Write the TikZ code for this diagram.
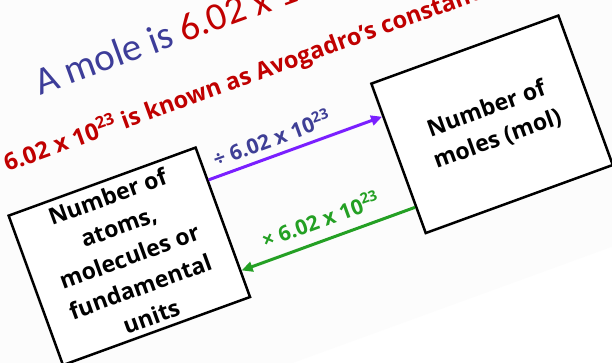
\documentclass[tikz,border=0pt]{standalone}
\usepackage{fontspec}
\setmainfont{Carlito}
\newfontfamily\boldsans{Open Sans}
\usetikzlibrary{arrows.meta,calc}
\definecolor{titleblue}{HTML}{3D3D99}
\definecolor{avored}{HTML}{C00000}
\definecolor{labblue}{HTML}{3F3F96}
\definecolor{arrpurple}{HTML}{7A1FFF}
\definecolor{arrgreen}{HTML}{24A024}
\definecolor{slide}{HTML}{FCFCFC}
\tikzset{
  box/.style={draw=black, line width=2.5pt, fill=white, minimum width=199pt, minimum height=159pt,
    align=center, font=\boldsans\fontsize{23}{32}\selectfont\bfseries, transform shape, inner sep=0pt},
  conv/.style={line width=3pt, -{Triangle[length=11pt,width=10pt]}},
  lab/.style={anchor=base west, font=\boldsans\fontsize{21}{26}\selectfont\bfseries, transform shape, inner sep=0pt},
}
\begin{document}
\begin{tikzpicture}[x=1pt,y=1pt]
\useasboundingbox (0,0) rectangle (612,363);
\clip (0,0) rectangle (612,363);
\fill[white] (0,0) rectangle (612,363);
\begin{scope}[rotate=20]
  \fill[slide] (-400,-100) rectangle (1200,700);
  \node[anchor=base west, font=\fontsize{39}{44}\selectfont, text=titleblue, transform shape, inner sep=0pt]
    (title) at (129,238) {A mole is \textcolor{avored}{6.02 x 10\textsuperscript{23} particles}};
  \node[anchor=base west, font=\boldsans\fontsize{23.5}{28}\selectfont\bfseries, text=avored, transform shape, inner sep=0pt]
    (avo) at (72,177) {6.02 x 10\textsuperscript{23} is known as Avogadro’s constant};
  \node[box] (atoms) at (158,56) {Number of\\atoms,\\molecules or\\fundamental\\units};
  \node[box] (moles) at (544,56) {Number of\\moles (mol)};
  \draw[conv, arrpurple] ($(atoms.north east)!0.223!(atoms.south east)$) -- ($(moles.north west)!0.223!(moles.south west)$);
  \draw[conv, arrgreen] ($(moles.north west)!0.82!(moles.south west)$) -- ($(atoms.north east)!0.82!(atoms.south east)$);
  \node[lab, text=labblue] (divlab) at (270,110) {÷ 6.02 x 10\textsuperscript{23}};
  \node[lab, text=arrgreen] (mullab) at (288,17) {× 6.02 x 10\textsuperscript{23}};
\end{scope}
\end{tikzpicture}
\end{document}
